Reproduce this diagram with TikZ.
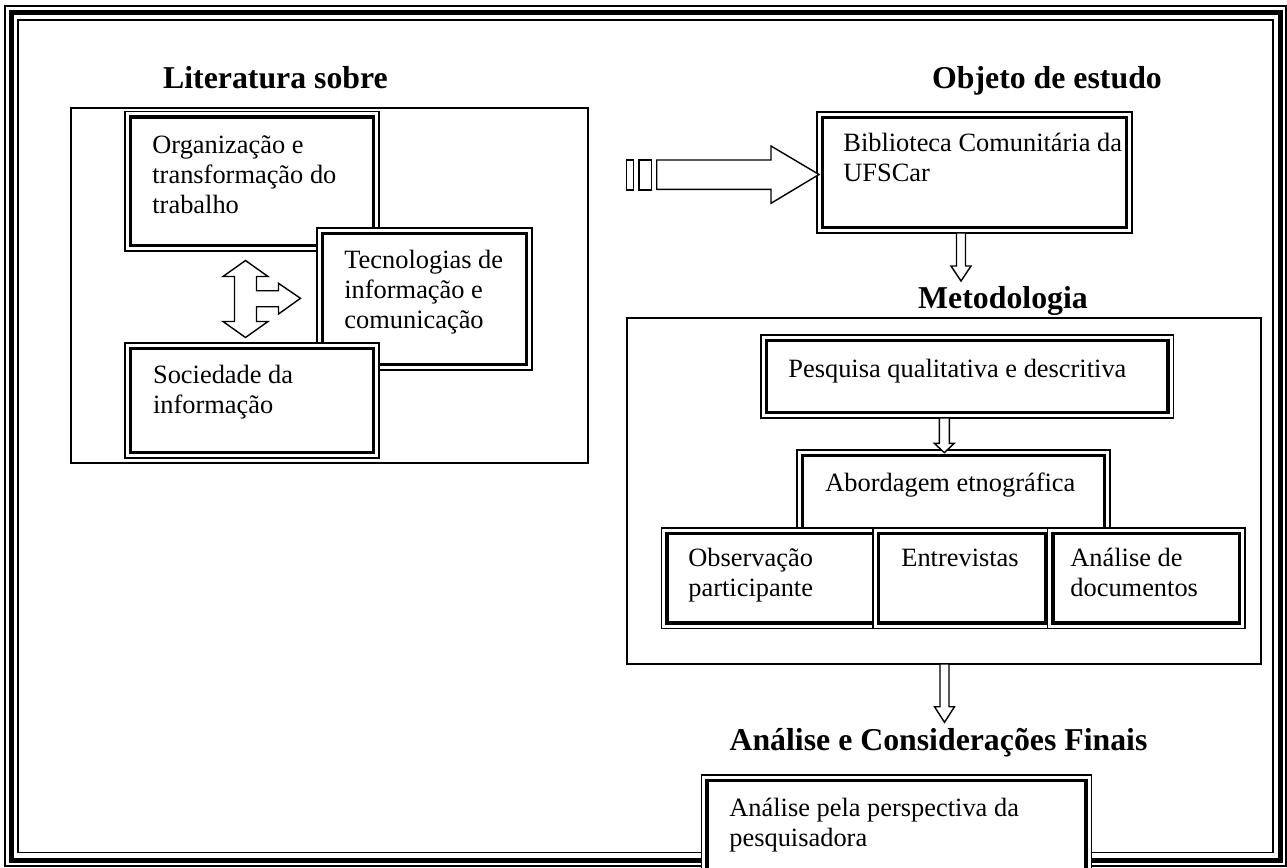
\documentclass[tikz,border=0pt]{standalone}
\usepackage{fontspec}
\setmainfont{Liberation Serif}
\usetikzlibrary{fit}
% left-aligned lines whose baseline is that of the first line
\newcommand\mlines[1]{\vtop{\halign{##\hfil\cr#1\crcr}}}
\tikzset{
  dbox/.style={draw, line width=0.85pt, fill=white, inner sep=0pt, outer sep=0pt,
    path picture={\draw[line width=1.65pt]
      ([shift={(2.75pt,-2.75pt)}]path picture bounding box.north west) rectangle
      ([shift={(-2.75pt,2.75pt)}]path picture bounding box.south east);}},
  sbox/.style={draw, line width=1pt, inner sep=0pt, outer sep=0pt},
  blockarrow/.style={draw, line width=0.7pt, fill=white, line join=miter},
  txt/.style={font=\fontsize{13.2}{15}\selectfont, inner sep=0pt, anchor=base west},
  ttl/.style={font=\fontsize{15.9}{18}\selectfont\bfseries, inner sep=0pt, anchor=base},
}
\begin{document}
\begin{tikzpicture}[x=0.5pt,y=-0.5pt]
\clip (0,0) rectangle (1287,868);
% page frame: thin, thick, thin
\draw[line width=0.85pt] (4.8,5.8) rectangle (1286,866);
\draw[line width=2.6pt] (11.8,12.5) rectangle (1280.5,860.5);
\draw[line width=0.85pt] (18.3,19.8) rectangle (1272.7,852.5);

% headings
\node[ttl] (tlit) at (275.5,88.3) {Literatura sobre};
\node[ttl] (tobj) at (1047,88.3) {Objeto de estudo};
\node[ttl] (tmet) at (1003,308.3) {Metodologia};
\node[ttl] (tfin) at (938.5,750) {Análise e Considerações Finais};

% literature block
\node[sbox, fit={(71,108) (588,463)}] (lit) {};
\node[dbox, fit={(125,111.5) (379,251)}] (org) {};
\node[dbox, fit={(317,228) (532,370)}] (tec) {};
\node[dbox, fit={(125,343) (379,458)}] (soc) {};
\node[txt] (orgt) at (152,153.3) {\mlines{Organização e\cr transformação do\cr trabalho}};
\node[txt] (tect) at (344,268) {\mlines{Tecnologias de\cr informação e\cr comunicação}};
\node[txt] (soct) at (152.7,383.3) {\mlines{Sociedade da\cr informação}};

% three-way block arrow between the topics
\coordinate (hub) at (245.5,299);
\draw[blockarrow, shift={(hub)}]
  (0,-38.5) -- (22.5,-22.5) -- (11,-22.5) -- (11,-8.3) -- (33,-8.3) -- (33,-15.7)
  -- (55,-0.7) -- (33,15) -- (33,7.7) -- (11,7.7) -- (11,22.5) -- (22.5,22.5)
  -- (0,38.5) -- (-22.5,22.5) -- (-11,22.5) -- (-11,-22.5) -- (-22.5,-22.5) -- cycle;

% object of study
\node[dbox, fit={(817,112) (1132,233)}] (bib) {};
\node[txt] (bibt) at (843,151) {\mlines{Biblioteca Comunitária da\cr UFSCar}};

% striped block arrow into the object of study
\begin{scope}[shift={(bib.west)}]
  \draw[blockarrow] (-190.3,-12.5) rectangle (-183.7,17.5);
  \draw[blockarrow] (-178,-12.5) rectangle (-165.3,17.5);
  \draw[blockarrow] (-160.3,-12.5) -- (-46,-12.5) -- (-46,-26.5) -- (2,2)
    -- (-46,30.8) -- (-46,16.8) -- (-160.3,16.8) -- cycle;
\end{scope}

% methodology
\node[sbox, fit={(627,318) (1261,664)}] (met) {};
\node[dbox, fit={(761,335) (1173.5,418)}] (pesq) {};
\node[txt] (pesqt) at (788,377.3) {Pesquisa qualitativa e descritiva};
\node[dbox, fit={(797,450) (1110,540)}] (abord) {};
\node[txt] (abordt) at (825,491.7) {Abordagem etnográfica};
\node[dbox, fit={(661.5,528) (879,628.5)}] (obs) {};
\node[dbox, fit={(873,528) (1051.5,628.5)}] (ent) {};
\node[dbox, fit={(1047.5,528) (1245,628.5)}] (ana) {};
\node[txt] (obst) at (688,566.7) {\mlines{Observação\cr participante}};
\node[txt] (entt) at (901,566.7) {Entrevistas};
\node[txt] (anat) at (1070,566.7) {\mlines{Análise de\cr documentos}};

% final analysis
\node[dbox, fit={(701.5,775) (1091.5,900)}] (fin) {};
\node[txt] (fint) at (729,816.7) {\mlines{Análise pela perspectiva da\cr pesquisadora}};

% down block arrows
\coordinate (a1) at (961,233);
\draw[blockarrow, shift={(a1)}] (-4.5,0) -- (4.5,0) -- (4.5,33) -- (10,33) -- (0,48)
  -- (-10,33) -- (-4.5,33) -- cycle;
\coordinate (a2) at (944.3,418);
\draw[blockarrow, shift={(a2)}] (-5,0) -- (5,0) -- (5,25.3) -- (10,25.3) -- (0,34.7)
  -- (-10,25.3) -- (-5,25.3) -- cycle;
\coordinate (a3) at (944.5,664);
\draw[blockarrow, shift={(a3)}] (-4.5,0) -- (4.5,0) -- (4.5,42.7) -- (10,42.7) -- (0,58.3)
  -- (-10,42.7) -- (-4.5,42.7) -- cycle;
\end{tikzpicture}
\end{document}
